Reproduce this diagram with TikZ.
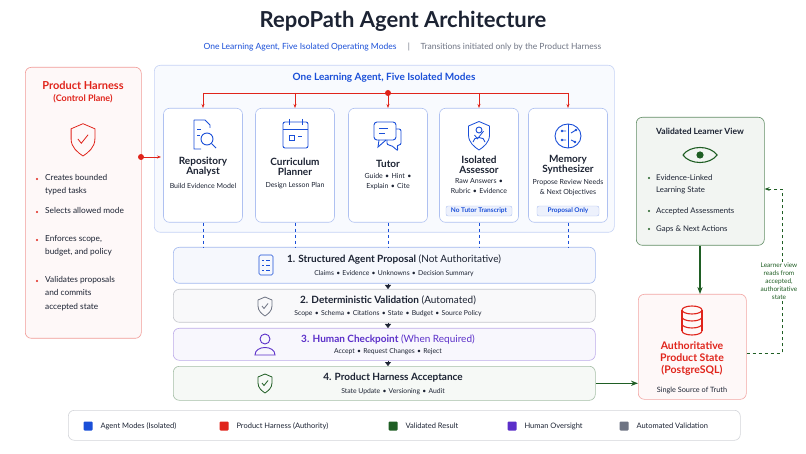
\documentclass[tikz,border=0pt]{standalone}
\usepackage{fontspec}
\setmainfont{Lato}
\usetikzlibrary{positioning,arrows.meta,calc}
\definecolor{agentblue}{HTML}{1A4FD8}
\definecolor{harnessred}{HTML}{E0241B}
\definecolor{okgreen}{HTML}{1F5E24}
\definecolor{humanpurple}{HTML}{5B2FC9}
\definecolor{autogray}{HTML}{6E7483}
\definecolor{inkdark}{HTML}{1C2333}
\tikzset{
  panel/.style={rounded corners=6pt, line width=0.6pt},
  card/.style={panel, draw=agentblue!35, fill=white, minimum width=79pt, minimum height=114pt},
  stage/.style={panel, draw=#1!40, fill=#1!4, minimum width=422pt},
  tag/.style={rounded corners=2pt, draw=agentblue!35, fill=agentblue!8, font=\fontsize{6.5}{7}\selectfont\bfseries, text=agentblue, inner sep=2pt},
  ctitle/.style={font=\fontsize{10}{11}\selectfont\bfseries, text=inkdark, align=center},
  csub/.style={font=\fontsize{7}{9.5}\selectfont, text=inkdark, align=center},
  ssub/.style={font=\fontsize{6.8}{8}\selectfont, text=inkdark},
  stitle/.style={font=\fontsize{10}{12}\selectfont, text=inkdark},
  bus/.style={harnessred, line width=0.9pt},
  stepdown/.style={-{Triangle[length=4pt,width=6pt]}, inkdark},
  legsq/.style={rounded corners=1pt, minimum size=9pt, inner sep=0pt},
  legtx/.style={font=\fontsize{7.5}{9}\selectfont, text=inkdark, anchor=west},
  pics/shield/.style={code={
    \draw[#1, line width=0.8pt, line join=round] (0,-9) -- (7,-6) -- (7,0) .. controls (7,5) and (3,8) .. (0,10) .. controls (-3,8) and (-7,5) .. (-7,0) -- (-7,-6) -- cycle;
    \draw[#1, line width=0.8pt] (-3,0) -- (-1,2.5) -- (3,-2.5);}},
}
\begin{document}
\begin{tikzpicture}[x=1pt,y=-1pt]
\fill[white] (0,0) rectangle (806,454);
\useasboundingbox (0,0) rectangle (806,454);

% title
\node[font=\fontsize{22}{24}\selectfont\bfseries, text=inkdark] (title) at (403,21) {RepoPath Agent Architecture};
\node[font=\fontsize{8.5}{10}\selectfont, anchor=east, text=agentblue] (subl) at (400,47) {One Learning Agent, Five Isolated Operating Modes};
\node[font=\fontsize{8.5}{10}\selectfont, text=autogray] (bar) at (409,47) {|};
\node[font=\fontsize{8.5}{10}\selectfont, anchor=west, text=autogray] (subr) at (417,47) {Transitions initiated only by the Product Harness};

% product harness
\node[panel, draw=harnessred!45, fill=harnessred!3, minimum width=116pt, minimum height=271pt, anchor=north west] (harness) at (25,67) {};
\node[font=\fontsize{11}{13}\selectfont\bfseries, text=harnessred, align=center] (htitle) at (83,92) {Product Harness\\[-1pt]{\fontsize{9}{10}\selectfont (Control Plane)}};
\pic[scale=1.7] at (83,139) {shield=harnessred};
\foreach \y/\t in {184/{Creates bounded\\typed tasks},217/{Selects allowed mode},245/{Enforces scope,\\budget, and policy},286/{Validates proposals\\and commits\\accepted state}}{
  \fill[harnessred] (37,\y-5) circle (1.2pt);
  \node[font=\fontsize{8.3}{13.5}\selectfont, text=inkdark, align=left, anchor=north west, inner sep=0pt] at (45,\y-10) {\t};
}

% agent container
\node[panel, draw=agentblue!25, fill=agentblue!3, minimum width=460pt, minimum height=167pt, anchor=north west] (agent) at (154,65) {};
\node[font=\fontsize{10}{12}\selectfont\bfseries, text=agentblue] (atitle) at (384,78) {One Learning Agent, Five Isolated Modes};
\fill[harnessred] (141,157) circle (3pt);
\draw[bus, -{Stealth[length=4pt]}] (141,157) -- (161,157);

% cards
\node[card, anchor=north] (analyst) at (203,108) {};
\node[card, anchor=north] (planner) at (295,108) {};
\node[card, anchor=north] (tutor) at (388,108) {};
\node[card, anchor=north] (assessor) at (479,108) {};
\node[card, anchor=north] (memory) at (568,108) {};

\coordinate (hub) at (388,93);
\draw[bus] (analyst.north |- hub) -- (memory.north |- hub);
\fill[harnessred] (hub) circle (3pt);
\foreach \c in {analyst,planner,tutor,assessor,memory}
  \draw[bus, -{Stealth[length=4pt]}] (\c.north |- hub) -- (\c.north);

% card icons
\begin{scope}[agentblue, line width=0.9pt]
  \draw (194,120) -- (205,120) -- (210,125) -- (210,128) (194,120) -- (194,149) -- (201,149);
  \draw (207,139) circle (6pt); \draw (211.5,143.5) -- (216,148);
  \draw (197,129) -- (201,129) (197,135) -- (200,135);
  \draw[rounded corners=2pt] (283,122) rectangle (308,148); \draw (283,129) -- (308,129);
  \draw (289,119) -- (289,125) (302,119) -- (302,125) (289,135) rectangle (294,140) (298,136) -- (302,136);
  \draw[rounded corners=3pt] (374,122) rectangle (396,140); \draw (379,140) -- (378,147) -- (386,140);
  \draw (379,128) -- (388,128) (379,133) -- (385,133);
  \draw[rounded corners=2pt] (396,129) -- (401,129) -- (401,145) -- (397,145) -- (398,151) -- (391,145) -- (387,145) -- (387,140);
  \pic[scale=1.5] at (479,135) {shield=agentblue};
  \draw (479,130) circle (3pt); \draw (473,142) .. controls (473,136) and (485,136) .. (485,142);
  \draw (568,136) ellipse (13pt and 12pt); \draw (568,124) -- (568,148);
  \draw (562,131) -- (566,131) (571,133) -- (576,130) (562,140) -- (566,140) (571,140) -- (575,142);
  \foreach \p in {(562,131),(576,130),(562,140),(575,142)} \fill \p circle (1.3pt);
\end{scope}

% card texts
\node[ctitle] (analystT) at (203,167) {Repository\\[-1pt]Analyst};
\node[csub, below=0pt of analystT] {Build Evidence Model};
\node[ctitle] (plannerT) at (295,167) {Curriculum\\[-1pt]Planner};
\node[csub, below=0pt of plannerT] {Design Lesson Plan};
\node[ctitle] (tutorT) at (388,164) {Tutor};
\node[csub, below=-1pt of tutorT] {Guide\,\,•\,\,Hint\,\,•\\Explain\,\,•\,\,Cite};
\node[ctitle] (assessorT) at (479,165) {Isolated\\[-1pt]Assessor};
\node[csub, below=-2pt of assessorT] {Raw Answers\,\,•\\Rubric\,\,•\,\,Evidence};
\node[tag, minimum width=66pt] (notutor) at (479,211) {No Tutor Transcript};
\node[ctitle] (memoryT) at (568,165) {Memory\\[-1pt]Synthesizer};
\node[csub, below=-2pt of memoryT] {Propose Review Needs\\\& Next Objectives};
\node[tag, minimum width=62pt] (proposal) at (568,211) {Proposal Only};

% stages
\node[stage=agentblue, minimum height=36pt, anchor=north west] (s1) at (173,247) {};
\node[stage=autogray, minimum height=33pt, anchor=north west] (s2) at (173,289) {};
\node[stage=humanpurple, minimum height=32pt, anchor=north west] (s3) at (173,328) {};
\node[stage=okgreen, minimum height=34pt, anchor=north west] (s4) at (173,366) {};
\foreach \c in {analyst,planner,tutor,assessor,memory}
  \draw[agentblue, dashed, line width=0.6pt] (\c.south) -- (\c.south |- s1.north);
\draw[stepdown] (s1.south -| 388,0) -- (s2.north -| 388,0);
\draw[stepdown] (s2.south -| 388,0) -- (s3.north -| 388,0);
\draw[stepdown] (s3.south -| 388,0) -- (s4.north -| 388,0);

\node[stitle] (s1T) at (394,260) {\textbf{1. Structured Agent Proposal} (Not Authoritative)};
\node[ssub] at (394,274) {Claims\,\,•\,\,Evidence\,\,•\,\,Unknowns\,\,•\,\,Decision Summary};
\node[stitle] (s2T) at (388,300) {\textbf{2. Deterministic Validation} (Automated)};
\node[ssub] at (388,314) {Scope\,\,•\,\,Schema\,\,•\,\,Citations\,\,•\,\,State\,\,•\,\,Budget\,\,•\,\,Source Policy};
\node[stitle, text=humanpurple] (s3T) at (388,339) {\textbf{3. Human Checkpoint} (When Required)};
\node[ssub] at (388,352) {Accept\,\,•\,\,Request Changes\,\,•\,\,Reject};
\node[stitle, font=\fontsize{10}{12}\selectfont\bfseries] (s4T) at (393,378) {4. Product Harness Acceptance};
\node[ssub] at (393,392) {State Update\,\,•\,\,Versioning\,\,•\,\,Audit};

% stage icons
\draw[agentblue, line width=0.7pt, rounded corners=1.5pt] (259,255) rectangle (273,275);
\foreach \y in {260,265,270} \draw[agentblue, line width=0.6pt] (262,\y) -- (264,\y) (266,\y) -- (270,\y);
\pic[scale=1] at (265,306) {shield=autogray};
\draw[humanpurple, line width=0.9pt] (265,339) circle (5pt) (255,355) .. controls (255,345) and (275,345) .. (275,355) -- cycle;
\pic[scale=1] at (265,383) {shield=okgreen};

% learner view
\node[panel, draw=okgreen!70, fill=okgreen!6, minimum width=128pt, minimum height=128pt, anchor=north west] (view) at (636,117) {};
\node[font=\fontsize{8.5}{10}\selectfont\bfseries, text=inkdark] (viewT) at (700,131) {Validated Learner View};
\draw[okgreen, line width=1.1pt] (683,155) .. controls (690,145) and (710,145) .. (717,155) .. controls (710,165) and (690,165) .. (683,155);
\fill[okgreen] (700,155) circle (3.6pt);
\foreach \y/\by/\t in {183/178/{Evidence-Linked\\Learning State},210/211/{Accepted Assessments},228/229/{Gaps \& Next Actions}}{
  \fill[okgreen] (649,\by) circle (1.2pt);
  \node[font=\fontsize{7.8}{12}\selectfont, text=inkdark, align=left, anchor=west, inner sep=0pt] at (656,\y+1) {\t};
}

% authoritative state
\node[panel, draw=harnessred!40, fill=harnessred!3, minimum width=108pt, minimum height=105pt, anchor=north west] (db) at (638,294) {};
\begin{scope}[harnessred, line width=1.1pt]
  \draw (692,310) ellipse (10pt and 4pt);
  \draw (682,310) -- (682,331) (702,310) -- (702,331);
  \draw (682,317) arc[start angle=180,end angle=360,x radius=10pt,y radius=4pt];
  \draw (682,324) arc[start angle=180,end angle=360,x radius=10pt,y radius=4pt];
  \draw (682,331) arc[start angle=180,end angle=360,x radius=10pt,y radius=4pt];
\end{scope}
\node[font=\fontsize{10.5}{12}\selectfont\bfseries, text=harnessred, align=center] (dbT) at (692,359) {Authoritative\\Product State\\(PostgreSQL)};
\node[csub, font=\fontsize{7.3}{9}\selectfont] at (692,390) {Single Source of Truth};

\draw[okgreen, line width=1.1pt, -{Stealth[length=7pt]}] (view.south -| 700,0) -- (db.north -| 700,0);
\draw[okgreen, line width=1.1pt, -{Stealth[length=7pt]}] (s4.east) -- (s4.east -| db.west);
\coordinate (loopB) at (782,353);
\coordinate (loopT) at (782,189);
\draw[okgreen, dashed, line width=0.7pt, -{Stealth[length=5pt]}] (db.east |- loopB) -- (loopB) -- (loopT) -- (view.east |- loopT);
\node[fill=white, font=\fontsize{6.5}{8}\selectfont, text=okgreen, align=center, inner sep=1pt] (loopL) at (779,281) {Learner view\\reads from\\accepted,\\authoritative\\state};

% legend
\node[panel, draw=autogray!30, fill=white, minimum width=672pt, minimum height=30pt, anchor=north west] (legend) at (68,410) {};
\foreach \x/\c/\t in {88/agentblue/{Agent Modes (Isolated)},224/harnessred/{Product Harness (Authority)},393/okgreen/{Validated Result},512/humanpurple/{Human Oversight},624/autogray/{Automated Validation}}{
  \node[legsq, fill=\c] at (\x,426) {};
  \node[legtx] at (\x+9,426) {\t};
}
\end{tikzpicture}
\end{document}
